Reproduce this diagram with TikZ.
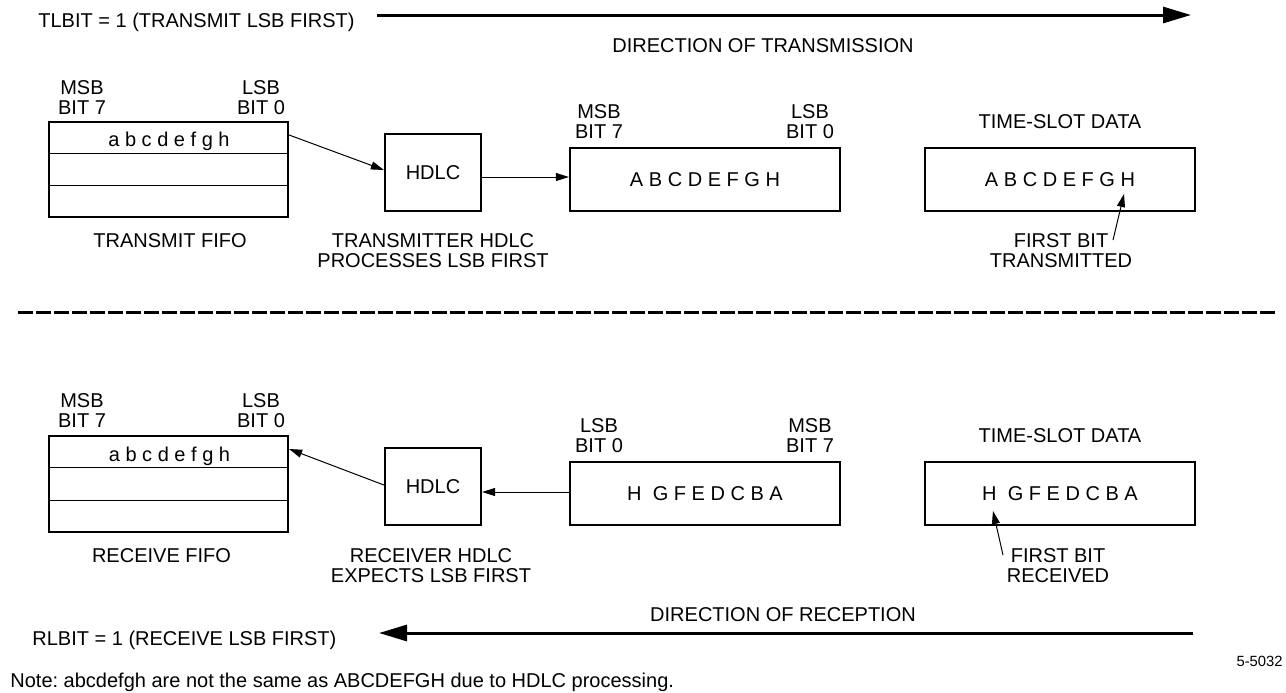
\documentclass[tikz,border=0pt]{standalone}
\usepackage{fontspec}
\setmainfont{Liberation Sans}
\usetikzlibrary{arrows.meta,calc}
\frenchspacing
\begin{document}
\begin{tikzpicture}[x=0.5pt,y=-0.5pt,
  every node/.style={font=\fontsize{10}{10}\selectfont, inner sep=0pt},
  fifobox/.style={draw, line width=1.1pt, minimum width=119.5pt, minimum height=47.5pt},
  hdlcbox/.style={draw, line width=1.1pt, minimum width=48pt, minimum height=38.5pt},
  regbox/.style={draw, line width=1.1pt, minimum width=135pt, minimum height=31.5pt},
  lbl/.style={align=center, anchor=north},
  txt/.style={anchor=base},
  rowline/.style={line width=0.6pt},
  conn/.style={line width=0.5pt, -{Triangle[length=6.5pt,width=4pt]}},
  bigarrow/.style={line width=1.5pt, -{Triangle[length=14pt,width=8pt]}},
  sep/.style={line width=1.5pt, dash pattern=on 7.5pt off 1.5pt}]
\useasboundingbox (0,0) rectangle (1286,692);

% ---------- transmit ----------
\node[anchor=base west] (tlbit) at (38,27) {TLBIT = 1 (TRANSMIT LSB FIRST)};
\coordinate (ta1) at (377,15);
\coordinate (ta2) at (1191,15);
\draw[bigarrow] (ta1) -- (ta2);
\node[txt] (dirtx) at (763,52) {DIRECTION OF TRANSMISSION};

\node[lbl] (msb1) at (82,80) {MSB\\BIT 7};
\node[lbl] (lsb1) at (261,80) {LSB\\BIT 0};
\node[fifobox] (fifo1) at (168.5,169.5) {};
\draw[rowline] ($(fifo1.north west)!1/3!(fifo1.south west)$) -- ($(fifo1.north east)!1/3!(fifo1.south east)$);
\draw[rowline] ($(fifo1.north west)!2/3!(fifo1.south west)$) -- ($(fifo1.north east)!2/3!(fifo1.south east)$);
\node[txt] (d1) at (169,146) {a b c d e f g h};
\node[txt] (fcap1) at (170,247) {TRANSMIT FIFO};

\node[hdlcbox] (hdlc1) at (433,172.5) {HDLC};
\node[lbl] (hcap1) at (433,232.7) {TRANSMITTER HDLC\\PROCESSES LSB FIRST};

\node[lbl] (msb2) at (599,103.7) {MSB\\BIT 7};
\node[lbl] (lsb2) at (810,103.7) {LSB\\BIT 0};
\node[regbox] (reg1) at (705,179.5) {A B C D E F G H};

\node[txt] (tsd1) at (1060,128) {TIME-SLOT DATA};
\node[regbox] (ts1) at (1060,179.5) {A B C D E F G H};
\node[lbl] (first1) at (1061,232.7) {FIRST BIT\\TRANSMITTED};
\coordinate (p1) at (1113,240);
\coordinate (p1t) at (1124,194);
\draw[conn] (p1) -- (p1t);

\draw[conn] (fifo1.east |- 0,135) -- (hdlc1.west |- 0,170);
\draw[conn] (hdlc1.east |- 0,177) -- (reg1.west |- 0,177);

% ---------- separator ----------
\coordinate (s1) at (18,312);
\coordinate (s2) at (1276,312);
\draw[sep] (s1) -- (s2);

% ---------- receive ----------
\node[lbl] (msb3) at (82,392.7) {MSB\\BIT 7};
\node[lbl] (lsb3) at (261,392.7) {LSB\\BIT 0};
\node[fifobox, minimum height=48pt] (fifo2) at (168.5,484) {};
\draw[rowline] ($(fifo2.north west)!1/3!(fifo2.south west)$) -- ($(fifo2.north east)!1/3!(fifo2.south east)$);
\draw[rowline] ($(fifo2.north west)!2/3!(fifo2.south west)$) -- ($(fifo2.north east)!2/3!(fifo2.south east)$);
\node[txt] (d2) at (169.5,461) {a b c d e f g h};
\node[txt] (fcap2) at (161.5,562) {RECEIVE FIFO};

\node[hdlcbox] (hdlc2) at (433,486.5) {HDLC};
\node[lbl] (hcap2) at (431,547.7) {RECEIVER HDLC\\EXPECTS LSB FIRST};

\node[lbl] (lsb4) at (599,417.7) {LSB\\BIT 0};
\node[lbl] (msb4) at (810,417.7) {MSB\\BIT 7};
\node[regbox] (reg2) at (705,493.5) {H~~G F E D C B A};

\node[txt] (tsd2) at (1060,442) {TIME-SLOT DATA};
\node[regbox] (ts2) at (1060,493.5) {H~~G F E D C B A};
\node[lbl] (first2) at (1058,547.7) {FIRST BIT\\RECEIVED};
\coordinate (p2) at (1003,555);
\coordinate (p2t) at (993,511);
\draw[conn] (p2) -- (p2t);

\draw[conn] (reg2.west |- 0,492) -- (hdlc2.east |- 0,492);
\draw[conn] (hdlc2.west |- 0,485) -- (fifo2.east |- 0,449);

\node[txt] (dirrx) at (783,621) {DIRECTION OF RECEPTION};
\coordinate (ra1) at (1193,633);
\coordinate (ra2) at (379,633);
\draw[bigarrow] (ra1) -- (ra2);
\node[anchor=base west] (rlbit) at (32,645) {RLBIT = 1 (RECEIVE LSB FIRST)};

\node[anchor=base east, font=\fontsize{7.4}{8}\selectfont] (fig) at (1283,666) {5-5032};
\node[anchor=base west] (note) at (10,687) {Note: abcdefgh are not the same as ABCDEFGH due to HDLC processing.};
\end{tikzpicture}
\end{document}
